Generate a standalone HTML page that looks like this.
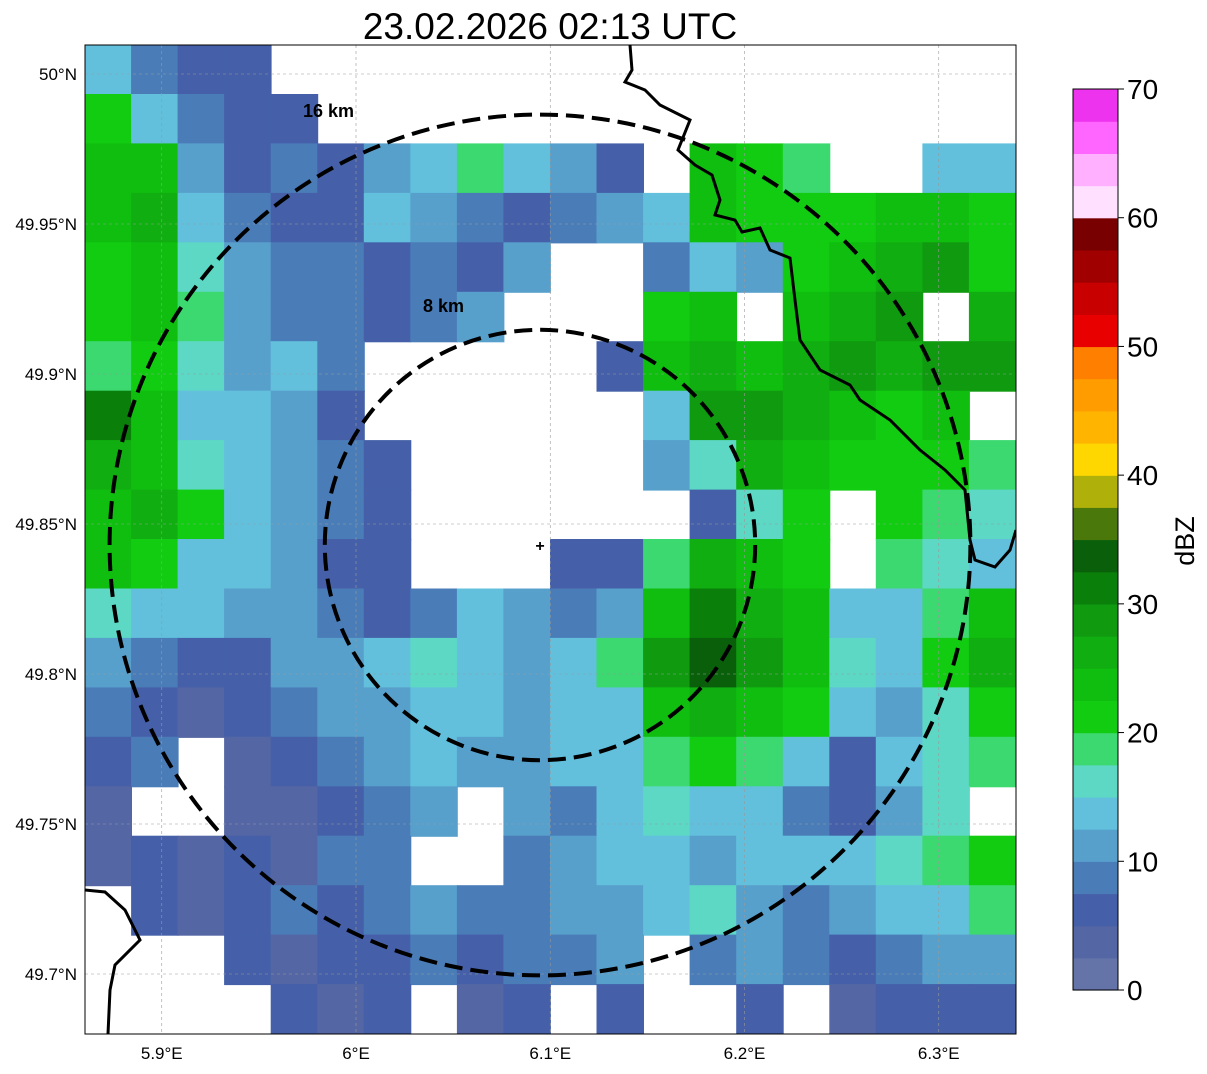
<!DOCTYPE html>
<html><head><meta charset="utf-8"><style>
body{margin:0;background:#fff;width:1207px;height:1069px;overflow:hidden;font-family:"Liberation Sans",sans-serif}
</style></head><body>
<svg width="1207" height="1069" xmlns="http://www.w3.org/2000/svg">
<text x="550" y="39" font-size="37" text-anchor="middle">23.02.2026 02:13 UTC</text>
<defs><clipPath id="mc"><rect x="85" y="45" width="931" height="989"/></clipPath></defs>
<g id="field" clip-path="url(#mc)"></g>
<g id="grid" clip-path="url(#mc)"></g>
<g clip-path="url(#mc)">
<polyline fill="none" stroke="#000" stroke-width="3" points="630,45 632,70 625,82 645,90 660,105 690,120 678,150 695,165 712,175 720,200 715,215 735,220 742,232 760,228 770,250 790,258 795,300 800,340 820,370 850,385 860,400 890,420 920,450 945,470 965,490 970,540 975,560 995,567 1010,550 1016,530"/>
<polyline fill="none" stroke="#000" stroke-width="3" points="85,890 105,892 125,910 140,940 115,965 110,990 108,1034"/>
</g>
<g id="circles"></g>
<text x="303" y="117" font-size="18" font-weight="bold">16 km</text>
<text x="423" y="312" font-size="18" font-weight="bold">8 km</text>
<text x="540" y="551" font-size="16" font-weight="bold" text-anchor="middle">+</text>
<rect x="85" y="45" width="931" height="989" fill="none" stroke="#000" stroke-width="1"/>
<g id="axes"></g>
<g id="cbar"></g>
<text transform="translate(1194,541) rotate(-90)" font-size="27" text-anchor="middle">dBZ</text>
</svg>
<script>
const NS="http://www.w3.org/2000/svg";
const bandColors=["#6474a8","#5566a4","#4560a8","#4a7cb8","#58a0cc","#62c0dc","#5cd8c4","#3cd870","#12cc12","#10be10","#10ae10","#109a10","#0a800a","#0a600a","#4a780a","#b0b00a","#ffd700","#ffb400","#ff9c00","#ff8000","#e80000","#c80000","#a00000","#780000","#ffe0ff","#ffb0ff","#ff66ff","#ee33ee"];
const cbarTicks=[0,10,20,30,40,50,60,70];
const lonTicks=[5.9,6.0,6.1,6.2,6.3];
const lonLabels=["5.9°E","6°E","6.1°E","6.2°E","6.3°E"];
const latTicks=[50,49.95,49.9,49.85,49.8,49.75,49.7];
const latLabels=["50°N","49.95°N","49.9°N","49.85°N","49.8°N","49.75°N","49.7°N"];
const ringRadiiKm=[8,16];
const fieldRows=[
"5322................",
"85322...............",
"994232457542.987..55",
"9a532254323459888998",
"8964332324..35489ab8",
"897433234...89.9ab.a",
"786453.....29a9ababb",
"c95542......5bba989.",
"a965432.....46a98887",
"9a85432......268.876",
"9855422...227a98.765",
"6554432354349ca95579",
"432244565457bdb9658a",
"3212344554559a985468",
"23.12345445578752567",
"1..11234.4356553246.",
"1212133..34554555678",
".2123234334456434557",
"...212232334.3432344",
"....212.12.2..2.1222"
];
function lonX(v){return 356+(v-6.0)*1942.5;}
function latY(v){return 74+(50-v)*3000;}
function dbzY(v){return 990-v*(901/70);}
const field=document.getElementById('field');
const cw=931/20,ch=989/20;
fieldRows.forEach((row,r)=>{for(let c=0;c<20;c++){const k=row[c];if(!k||k==='.')continue;const idx=parseInt(k,16);
const el=document.createElementNS(NS,'rect');
el.setAttribute('x',(85+c*cw-0.5).toFixed(1));el.setAttribute('y',(45+r*ch-0.5).toFixed(1));
el.setAttribute('width',(cw+1).toFixed(1));el.setAttribute('height',(ch+1).toFixed(1));
el.setAttribute('fill',bandColors[idx]);


field.appendChild(el);}});
const grid=document.getElementById('grid'),axes=document.getElementById('axes');
lonTicks.forEach((v,i)=>{const x=lonX(v);
const l=document.createElementNS(NS,'line');l.setAttribute('x1',x);l.setAttribute('x2',x);l.setAttribute('y1',45);l.setAttribute('y2',1034);l.setAttribute('stroke','#999');l.setAttribute('stroke-width','0.6');l.setAttribute('stroke-dasharray','3,3');


grid.appendChild(l);
const t=document.createElementNS(NS,'text');t.setAttribute('x',x);t.setAttribute('y',1059);t.setAttribute('font-size','17');t.setAttribute('text-anchor','middle');t.textContent=lonLabels[i];


axes.appendChild(t);});
latTicks.forEach((v,i)=>{const y=latY(v);
const l=document.createElementNS(NS,'line');l.setAttribute('x1',85);l.setAttribute('x2',1016);l.setAttribute('y1',y);l.setAttribute('y2',y);l.setAttribute('stroke','#999');l.setAttribute('stroke-width','0.6');l.setAttribute('stroke-dasharray','3,3');


grid.appendChild(l);
const t=document.createElementNS(NS,'text');t.setAttribute('x',77);t.setAttribute('y',y+6);t.setAttribute('font-size','17');t.setAttribute('text-anchor','end');t.textContent=latLabels[i];


axes.appendChild(t);});
const circ=document.getElementById('circles');
ringRadiiKm.forEach(km=>{const c=document.createElementNS(NS,'ellipse');c.setAttribute('cx',540);c.setAttribute('cy',545);c.setAttribute('rx',km*26.9);c.setAttribute('ry',km*26.9);c.setAttribute('fill','none');c.setAttribute('stroke','#000');c.setAttribute('stroke-width','4');c.setAttribute('stroke-dasharray','18,8');


circ.appendChild(c);});
const cb=document.getElementById('cbar');
bandColors.forEach((col,i)=>{const y0=dbzY((i+1)*2.5),y1=dbzY(i*2.5);const r=document.createElementNS(NS,'rect');r.setAttribute('x',1073);r.setAttribute('y',y0.toFixed(1));r.setAttribute('width',45);r.setAttribute('height',(y1-y0+0.6).toFixed(1));r.setAttribute('fill',col);


cb.appendChild(r);});
const fr=document.createElementNS(NS,'rect');fr.setAttribute('x',1073);fr.setAttribute('y',89);fr.setAttribute('width',45);fr.setAttribute('height',901);fr.setAttribute('fill','none');fr.setAttribute('stroke','#000');


cb.appendChild(fr);
cbarTicks.forEach(v=>{const y=dbzY(v);const l=document.createElementNS(NS,'line');l.setAttribute('x1',1118);l.setAttribute('x2',1124);l.setAttribute('y1',y);l.setAttribute('y2',y);l.setAttribute('stroke','#000');


cb.appendChild(l);
const t=document.createElementNS(NS,'text');t.setAttribute('x',1127);t.setAttribute('y',y+10);t.setAttribute('font-size','28');t.textContent=v;


cb.appendChild(t);});
</script>
</body></html>
